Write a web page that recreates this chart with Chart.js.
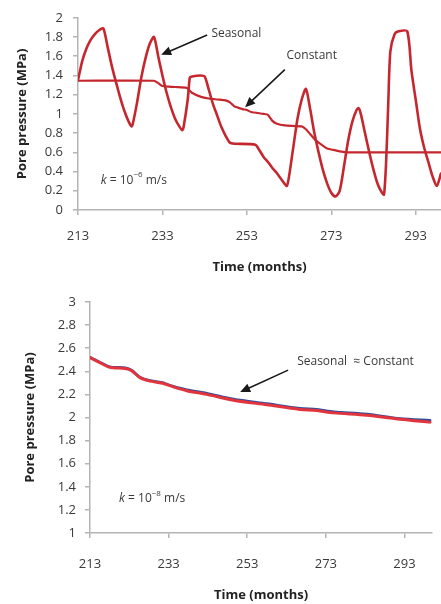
<!DOCTYPE html>
<html>
<head>
<meta charset="utf-8">
<script src="https://cdn.jsdelivr.net/npm/chart.js@4.4.1/dist/chart.umd.min.js"></script>
<style>
  html, body { margin: 0; padding: 0; background: #fff; }
  body { width: 441px; height: 604px; position: relative; overflow: hidden; }
  .box { position: absolute; left: 0; width: 441px; }
  #topBox { top: 0; height: 280px; }
  #botBox { top: 280px; height: 324px; }
</style>
</head>
<body>
<div class="box" id="topBox"><canvas id="topChart" width="441" height="280"></canvas></div>
<div class="box" id="botBox"><canvas id="botChart" width="441" height="324"></canvas></div>
<script>
// Time axis ticks (months), shared by both panels
const monthTicks = [213, 233, 253, 273, 293];

// Upper panel, k = 1e-6 m/s: pore pressure (MPa)
const topSeasonalMonths = [213, 214, 215, 216, 217, 218, 219, 220, 221, 222, 223, 224, 225, 225.7, 226, 227, 228, 229, 230, 231,
  232, 233, 234, 235, 236, 237, 237.7, 238, 239, 239.5, 240, 242, 243, 244, 245, 246, 247, 248, 249, 250, 255,
  256, 257, 258, 259, 260, 261, 262, 262.5, 263, 264, 265, 266, 267, 268, 269, 270, 271, 272, 273, 274, 275,
  276, 277, 278, 279, 279.5, 280, 281, 282, 283, 284, 285, 285.5, 286, 286.5, 287, 288, 289, 291, 292, 293,
  294, 295, 296, 297, 298, 299];
const topSeasonalValues = [1.35, 1.55, 1.68, 1.77, 1.83, 1.87, 1.89, 1.70, 1.50, 1.33, 1.17, 1.03, 0.92, 0.87, 0.90, 1.12, 1.38, 1.58, 1.73, 1.80,
  1.60, 1.40, 1.22, 1.07, 0.95, 0.87, 0.83, 0.86, 1.15, 1.38, 1.39, 1.40, 1.39, 1.25, 1.10, 0.98, 0.86, 0.77, 0.70, 0.69, 0.68,
  0.62, 0.55, 0.50, 0.44, 0.39, 0.33, 0.27, 0.25, 0.35, 0.65, 0.95, 1.15, 1.26, 1.05, 0.80, 0.60, 0.42, 0.28, 0.18, 0.14, 0.20,
  0.45, 0.72, 0.92, 1.04, 1.06, 1.00, 0.80, 0.60, 0.42, 0.27, 0.18, 0.16, 0.50, 1.10, 1.65, 1.83, 1.86, 1.86, 1.45, 1.15,
  0.85, 0.65, 0.50, 0.35, 0.25, 0.38];
const topConstantMonths = [213, 231, 232, 233, 236, 238.8, 240, 242, 244, 246, 248, 249, 250, 252, 253, 254, 257, 258, 259,
  260, 262, 266, 267, 268, 269, 270, 271, 272, 273, 275, 277, 299];
const topConstantValues = [1.345, 1.345, 1.32, 1.29, 1.28, 1.27, 1.22, 1.18, 1.16, 1.15, 1.14, 1.12, 1.08, 1.05, 1.04, 1.02, 1.00, 0.99, 0.93,
  0.90, 0.88, 0.87, 0.84, 0.79, 0.74, 0.70, 0.67, 0.64, 0.63, 0.61, 0.60, 0.60];

// Lower panel, k = 1e-8 m/s: the two cases almost coincide
const botMonths = [213, 215.5, 218, 222, 223.6, 225.7, 228.3, 231.7, 232.5, 234.2, 237.6, 242.7, 249.5, 258, 266.4, 270.7, 275, 283.4, 291.9, 299.5];
const botConstantValues = [2.52, 2.48, 2.44, 2.43, 2.41, 2.35, 2.32, 2.30, 2.29, 2.27, 2.24, 2.21, 2.16, 2.12, 2.08, 2.07, 2.05, 2.03, 1.99, 1.975];
const botSeasonalValues = [2.52, 2.475, 2.435, 2.425, 2.405, 2.345, 2.315, 2.295, 2.285, 2.265, 2.232, 2.20, 2.15, 2.11, 2.07, 2.06, 2.04, 2.02, 1.985, 1.96];

const FONT = '"Open Sans", "Liberation Sans", sans-serif';
const TEXT = '#3a3a3a';
const AXIS = '#b4b4b4';

function pts(xs, ys) { return xs.map((x, i) => ({ x: x, y: ys[i] })); }

// Annotation plugin: labels and arrows placed in data coordinates
function notesPlugin(notes) {
  return {
    id: 'notes',
    afterDatasetsDraw(chart) {
      const ctx = chart.ctx, xs = chart.scales.x, ys = chart.scales.y;
      ctx.save();
      notes.forEach(n => {
        if (n.arrow) {
          const x1 = xs.getPixelForValue(n.arrow[0]), y1 = ys.getPixelForValue(n.arrow[1]);
          const x2 = xs.getPixelForValue(n.arrow[2]), y2 = ys.getPixelForValue(n.arrow[3]);
          const a = Math.atan2(y2 - y1, x2 - x1), L = 10, W = 4.5;
          ctx.strokeStyle = '#1a1a1a';
          ctx.fillStyle = '#1a1a1a';
          ctx.lineWidth = 1.6;
          ctx.beginPath();
          ctx.moveTo(x1, y1);
          ctx.lineTo(x2 - L * 0.8 * Math.cos(a), y2 - L * 0.8 * Math.sin(a));
          ctx.stroke();
          ctx.beginPath();
          ctx.moveTo(x2, y2);
          ctx.lineTo(x2 - L * Math.cos(a) + W * Math.sin(a), y2 - L * Math.sin(a) - W * Math.cos(a));
          ctx.lineTo(x2 - L * Math.cos(a) - W * Math.sin(a), y2 - L * Math.sin(a) + W * Math.cos(a));
          ctx.closePath();
          ctx.fill();
        }
        if (n.parts) {
          let x = xs.getPixelForValue(n.at[0]);
          const y = ys.getPixelForValue(n.at[1]);
          ctx.textBaseline = 'middle';
          ctx.textAlign = 'left';
          ctx.fillStyle = TEXT;
          n.parts.forEach(p => {
            ctx.font = (p.italic ? 'italic ' : '') + (p.size || 12) + 'px ' + FONT;
            ctx.fillText(p.t, x, y + (p.dy || 0));
            x += ctx.measureText(p.t).width;
          });
        }
      });
      ctx.restore();
    }
  };
}

function makeChart(id, cfg) {
  return new Chart(document.getElementById(id), {
    type: 'line',
    data: { datasets: cfg.datasets },
    options: {
      responsive: false,
      animation: false,
      events: [],
      layout: { padding: cfg.padding },
      plugins: { legend: { display: false }, tooltip: { enabled: false } },
      elements: { point: { radius: 0 }, line: { tension: 0.25, borderCapStyle: 'round', borderJoinStyle: 'round' } },
      scales: {
        x: {
          type: 'linear', min: 213, max: cfg.xMax,
          afterBuildTicks(s) { s.ticks = monthTicks.map(v => ({ value: v })); },
          afterFit(s) { s.height = cfg.xHeight; },
          border: { color: AXIS, width: 1.5 },
          grid: { drawOnChartArea: false, drawTicks: true, tickLength: 5, color: AXIS, lineWidth: 1.5 },
          ticks: { font: { family: FONT, size: 13 }, color: TEXT, padding: cfg.xTickPad, maxRotation: 0, callback: v => String(v) },
          title: { display: true, text: 'Time (months)', font: { family: FONT, size: 13, weight: 'bold' }, color: '#222', padding: { top: 4, bottom: cfg.xTitleBottom } }
        },
        y: {
          type: 'linear', min: cfg.yMin, max: cfg.yMax,
          afterFit(s) { s.width = cfg.yWidth; },
          border: { color: AXIS, width: 1.5 },
          grid: { drawOnChartArea: false, drawTicks: true, tickLength: 5, color: AXIS, lineWidth: 1.5 },
          ticks: { stepSize: 0.2, font: { family: FONT, size: 13 }, color: TEXT, padding: cfg.yTickPad, callback: v => String(Math.round(v * 10) / 10) },
          title: { display: true, text: 'Pore pressure (MPa)', font: { family: FONT, size: 13, weight: 'bold' }, color: '#222', padding: { top: 0, bottom: 0 } }
        }
      }
    },
    plugins: [notesPlugin(cfg.notes)]
  });
}

makeChart('topChart', {
  xMax: 299, yMin: 0, yMax: 2,
  padding: { top: 14, left: 14, right: 0, bottom: 0 },
  yWidth: 64, xHeight: 70, xTickPad: 13, xTitleBottom: 5, yTickPad: 10,
  datasets: [
    { data: pts(topConstantMonths, topConstantValues), borderColor: '#c4282e', borderWidth: 2.2, tension: 0.2 },
    { data: pts(topSeasonalMonths, topSeasonalValues), borderColor: '#c4282e', borderWidth: 2.6 }
  ],
  notes: [
    { at: [244.6, 1.84], parts: [{ t: 'Seasonal' }], arrow: [243.6, 1.82, 232.7, 1.615] },
    { at: [262.4, 1.605], parts: [{ t: 'Constant' }], arrow: [262.0, 1.46, 252.6, 1.07] },
    { at: [218.4, 0.31], parts: [{ t: 'k', italic: true }, { t: ' = 10' }, { t: '\u22126', size: 8, dy: -5 }, { t: ' m/s' }] }
  ]
});

makeChart('botChart', {
  xMax: 300, yMin: 1, yMax: 3,
  padding: { top: 22, left: 22, right: 9, bottom: 0 },
  yWidth: 68, xHeight: 71, xTickPad: 18, xTitleBottom: 1, yTickPad: 9,
  datasets: [
    { data: pts(botMonths, botSeasonalValues), borderColor: '#e2343c', borderWidth: 3, tension: 0.3 },
    { data: pts(botMonths, botConstantValues), borderColor: '#2d4e9e', borderWidth: 2.6, tension: 0.3 }
  ],
  notes: [
    { at: [265.7, 2.48], parts: [{ t: 'Seasonal  \u2248 Constant' }], arrow: [263.4, 2.41, 251.2, 2.22] },
    { at: [220.4, 1.30], parts: [{ t: 'k', italic: true }, { t: ' = 10' }, { t: '\u22128', size: 8, dy: -5 }, { t: ' m/s' }] }
  ]
});
</script>
</body>
</html>
